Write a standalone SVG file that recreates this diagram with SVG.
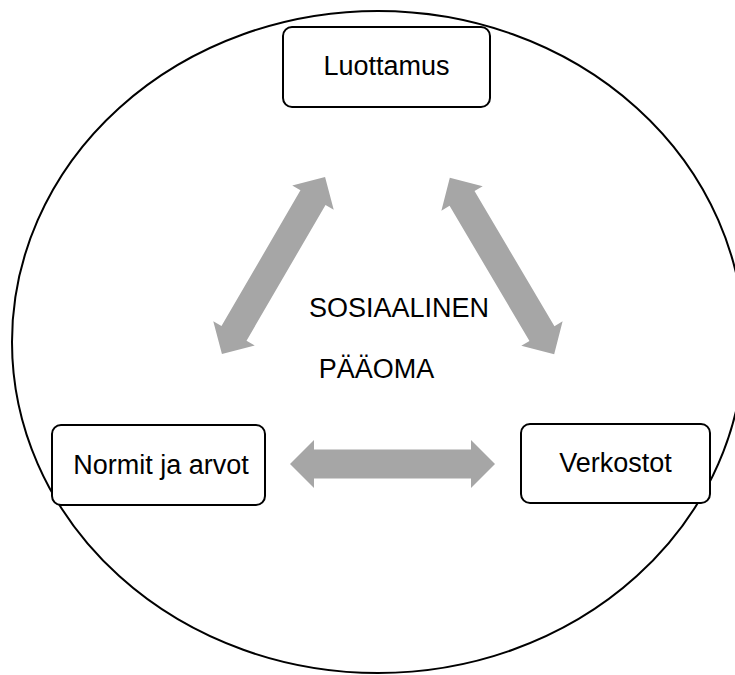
<svg xmlns="http://www.w3.org/2000/svg" width="735" height="675" viewBox="0 0 735 675">
  <style>
    .box { fill: #ffffff; stroke: #000000; stroke-width: 2; }
    .lbl { font-family: "Liberation Sans", Arial, sans-serif; font-size: 27px; fill: #000000; text-anchor: middle; }
    .arrow { fill: #a6a6a6; }
  </style>
  <defs>
    <path id="dbl" d="M -102.5 0 L -78.5 -24 L -78.5 -14.5 L 78.5 -14.5 L 78.5 -24 L 102.5 0 L 78.5 24 L 78.5 14.5 L -78.5 14.5 L -78.5 24 Z"/>
  </defs>
  <rect width="735" height="675" fill="#ffffff"/>
  <ellipse id="circle" cx="378" cy="342" rx="366" ry="331" fill="none" stroke="#000000" stroke-width="2"/>
  <g id="connectors">
    <use href="#dbl" class="arrow" transform="translate(273.5 265.5) rotate(-59.8)"/>
    <use href="#dbl" class="arrow" transform="translate(502 266) rotate(59.4)"/>
    <use href="#dbl" class="arrow" transform="translate(392.5 464)"/>
  </g>
  <g id="center-label">
    <text class="lbl" x="399" y="317">SOSIAALINEN</text>
    <text class="lbl" x="376.5" y="378">PÄÄOMA</text>
  </g>
  <g id="luottamus">
    <rect class="box" x="283" y="27" width="207" height="80" rx="9"/>
    <text class="lbl" x="386.5" y="75">Luottamus</text>
  </g>
  <g id="normit">
    <rect class="box" x="52" y="425" width="213" height="80" rx="9"/>
    <text class="lbl" x="161" y="474">Normit ja arvot</text>
  </g>
  <g id="verkostot">
    <rect class="box" x="521" y="424" width="189" height="79" rx="9"/>
    <text class="lbl" x="615.5" y="472">Verkostot</text>
  </g>
</svg>
